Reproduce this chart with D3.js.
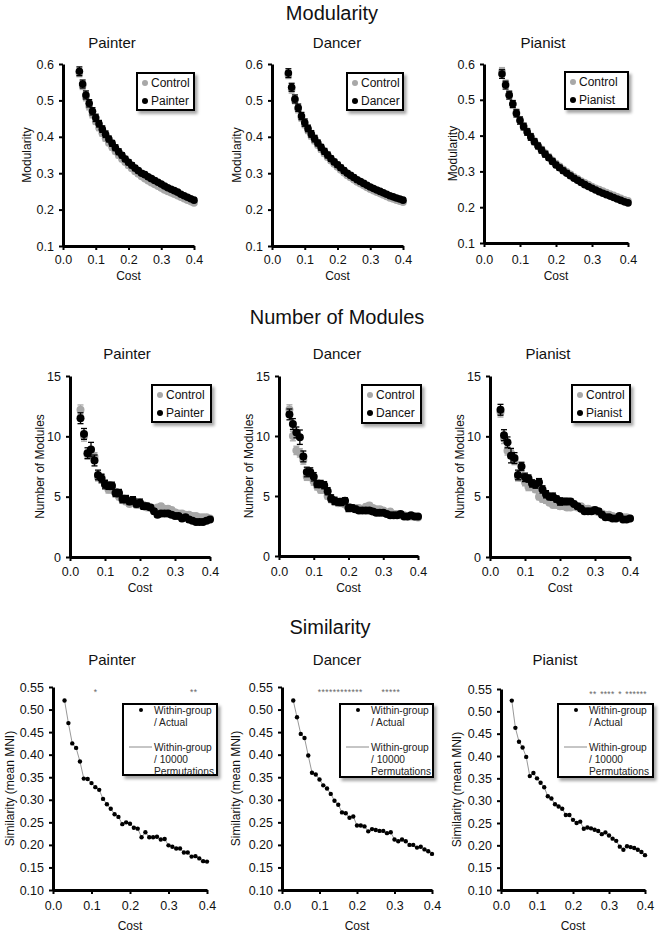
<!DOCTYPE html>
<html><head><meta charset="utf-8">
<script src="https://cdn.jsdelivr.net/npm/d3@7"></script>
<style>body{margin:0;background:#fff} text{font-family:"Liberation Sans",Arial,sans-serif;fill:#111}</style>
</head><body><svg id="c" width="664" height="934"></svg>
<script>
// ---------------- DATA ----------------
const groups = ["Painter", "Dancer", "Pianist"];
const rowTitles = ["Modularity", "Number of Modules", "Similarity"];
const costTicks = [0.0, 0.1, 0.2, 0.3, 0.4];
const modTicks = [0.1, 0.2, 0.3, 0.4, 0.5, 0.6];
const modulesTicks = [0, 5, 10, 15];
const simTicks = [0.10, 0.15, 0.20, 0.25, 0.30, 0.35, 0.40, 0.45, 0.50, 0.55];

const modCost = [0.05,0.06,0.07,0.08,0.09,0.10,0.11,0.12,0.13,0.14,0.15,0.16,0.17,0.18,0.19,0.20,0.21,0.22,0.23,0.24,0.25,0.26,0.27,0.28,0.29,0.30,0.31,0.32,0.33,0.34,0.35,0.36,0.37,0.38,0.39,0.40];
const modPainter = [.580,.545,.515,.492,.470,.452,.436,.421,.407,.394,.382,.370,.359,.349,.339,.330,.322,.314,.307,.300,.296,.290,.285,.280,.275,.270,.265,.260,.256,.252,.248,.242,.238,.234,.230,.226];
const modPainterCtrl = [.575,.540,.508,.483,.461,.442,.425,.410,.396,.383,.371,.360,.349,.339,.330,.321,.313,.305,.298,.291,.285,.279,.274,.269,.264,.259,.254,.250,.246,.242,.238,.234,.230,.226,.222,.218];
const modDancer = [.575,.536,.504,.480,.457,.439,.423,.408,.395,.383,.371,.360,.350,.340,.331,.323,.315,.307,.300,.294,.288,.282,.277,.272,.267,.262,.258,.254,.250,.246,.242,.238,.235,.232,.229,.226];
const modDancerCtrl = [.570,.530,.500,.475,.452,.433,.417,.402,.389,.377,.365,.354,.344,.334,.325,.317,.309,.301,.294,.288,.282,.276,.271,.266,.261,.256,.252,.248,.244,.240,.236,.232,.229,.226,.223,.220];
const modPianist = [.572,.541,.513,.488,.462,.442,.425,.410,.396,.383,.371,.359,.348,.338,.328,.318,.310,.302,.295,.288,.281,.275,.269,.263,.258,.253,.248,.243,.239,.235,.231,.227,.223,.219,.215,.212];
const modPianistCtrl = [.580,.545,.515,.488,.465,.445,.428,.412,.398,.385,.373,.362,.351,.341,.331,.322,.314,.306,.299,.292,.285,.279,.273,.268,.263,.258,.253,.249,.245,.241,.237,.233,.229,.225,.221,.218];
const modErr = [.012,.011,.011,.010,.010,.010,.009,.009,.009,.008,.008,.008,.008,.007,.007,.007,.007,.007,.006,.006,.006,.006,.006,.006,.005,.005,.005,.005,.005,.005,.005,.005,.005,.005,.005,.005];
const modErrCtrl = [.010,.010,.009,.009,.009,.008,.008,.008,.008,.007,.007,.007,.007,.007,.006,.006,.006,.006,.006,.006,.005,.005,.005,.005,.005,.005,.005,.005,.005,.004,.004,.004,.004,.004,.004,.004];

const nCost = [0.03,0.04,0.05,0.06,0.07,0.08,0.09,0.10,0.11,0.12,0.13,0.14,0.15,0.16,0.17,0.18,0.19,0.20,0.21,0.22,0.23,0.24,0.25,0.26,0.27,0.28,0.29,0.30,0.31,0.32,0.33,0.34,0.35,0.36,0.37,0.38,0.39,0.40];
const nPainter = [11.5,10.2,8.6,8.9,8.0,6.8,6.5,6.0,5.9,5.9,5.3,5.3,4.8,4.8,4.6,4.7,4.4,4.5,4.2,4.2,4.1,3.8,3.5,3.6,3.6,3.6,3.5,3.4,3.4,3.2,3.3,3.1,3.0,2.9,2.9,2.9,3.0,3.1];
const nPainterCtrl = [12.2,10.0,8.5,8.6,8.3,6.6,6.6,6.1,5.6,5.6,5.4,5.0,4.7,4.6,4.4,4.5,4.3,4.3,4.3,4.1,4.1,4.0,4.1,4.2,4.0,4.0,3.9,3.7,3.6,3.6,3.5,3.5,3.4,3.4,3.3,3.3,3.3,3.2];
const nDancer = [11.8,11.0,10.3,9.9,8.3,7.0,7.0,6.6,6.0,6.0,5.9,5.4,4.8,4.6,4.5,4.5,4.6,4.0,4.0,3.9,3.8,3.8,3.8,3.8,3.7,3.6,3.6,3.6,3.5,3.4,3.4,3.4,3.5,3.3,3.3,3.4,3.3,3.3];
const nDancerCtrl = [12.2,10.0,8.8,8.6,8.0,6.6,6.6,6.2,5.8,5.5,5.5,5.0,4.7,4.5,4.4,4.4,4.3,4.1,4.0,4.0,4.0,3.9,4.1,4.2,4.0,3.9,3.9,3.8,3.6,3.7,3.5,3.5,3.4,3.4,3.3,3.3,3.3,3.2];
const nPianist = [12.2,10.1,9.5,8.4,8.2,6.8,7.5,6.6,6.5,6.1,6.0,6.2,5.6,5.2,5.0,5.0,4.8,4.6,4.6,4.6,4.6,4.4,4.2,4.0,3.8,3.8,3.8,3.9,3.8,3.5,3.3,3.3,3.2,3.2,3.4,3.1,3.1,3.2];
const nPianistCtrl = [12.0,9.8,8.8,8.6,8.0,6.6,6.6,6.2,5.8,5.8,5.6,5.0,4.8,4.7,4.5,4.3,4.3,4.2,4.2,4.1,4.1,4.2,4.1,4.2,4.0,4.0,3.9,3.8,3.7,3.6,3.5,3.5,3.4,3.3,3.3,3.3,3.3,3.2];
const nErr = [0.45,0.45,0.45,0.6,0.45,0.4,0.35,0.35,0.3,0.3,0.3,0.3,0.3,0.3,0.25,0.3,0.25,0.3,0.25,0.25,0.2,0.2,0.2,0.2,0.2,0.2,0.2,0.2,0.2,0.2,0.2,0.2,0.15,0.15,0.15,0.15,0.15,0.15];
const nErrCtrl = [0.4,0.4,0.35,0.35,0.35,0.3,0.3,0.3,0.3,0.25,0.25,0.25,0.25,0.25,0.2,0.2,0.2,0.2,0.2,0.2,0.2,0.2,0.2,0.2,0.2,0.2,0.2,0.2,0.15,0.15,0.15,0.15,0.15,0.15,0.15,0.15,0.15,0.15];

const simCost = nCost;
const simPainter = [.520,.470,.425,.415,.385,.347,.346,.337,.328,.322,.302,.290,.280,.268,.262,.246,.250,.247,.238,.236,.217,.228,.217,.217,.218,.212,.213,.199,.196,.192,.192,.183,.183,.174,.175,.170,.164,.163];
const simPainterPerm = [.520,.470,.425,.415,.385,.347,.346,.337,.328,.322,.302,.290,.280,.268,.262,.246,.250,.247,.238,.236,.217,.228,.217,.217,.218,.212,.213,.199,.196,.192,.192,.183,.183,.174,.175,.170,.164,.163];
const simDancer = [.520,.483,.446,.437,.398,.360,.356,.345,.332,.325,.313,.298,.289,.272,.270,.260,.263,.243,.243,.241,.230,.235,.233,.231,.231,.226,.228,.212,.208,.212,.208,.200,.200,.194,.196,.190,.186,.180];
const simDancerPerm = [.520,.483,.446,.437,.398,.360,.356,.345,.332,.325,.313,.298,.289,.272,.270,.260,.263,.243,.243,.241,.230,.235,.233,.231,.231,.226,.228,.212,.208,.212,.208,.200,.200,.194,.196,.190,.186,.180];
const simPianist = [.524,.463,.432,.419,.398,.355,.362,.350,.340,.330,.310,.305,.292,.287,.282,.268,.268,.257,.250,.253,.237,.240,.238,.235,.232,.225,.229,.222,.215,.210,.197,.190,.198,.196,.194,.190,.185,.178];
const simPianistPerm = [.524,.463,.432,.419,.398,.355,.362,.350,.340,.330,.310,.305,.292,.287,.282,.268,.268,.257,.250,.253,.237,.240,.238,.235,.232,.225,.229,.222,.215,.210,.197,.190,.198,.196,.194,.190,.185,.178];
const starsPainter = [0.11, 0.36, 0.37];
const starsDancer = [0.10,0.11,0.12,0.13,0.14,0.15,0.16,0.17,0.18,0.19,0.20,0.21,0.27,0.28,0.29,0.30,0.31];
const starsPianist = [0.25,0.26,0.28,0.29,0.30,0.31,0.33,0.35,0.36,0.37,0.38,0.39,0.40];

// ---------------- LAYOUT ----------------
const svg = d3.select("#c");
const defs = svg.append("defs");
defs.append("filter").attr("id","sh").attr("x","-20%").attr("y","-20%").attr("width","150%").attr("height","160%")
  .append("feDropShadow").attr("dx",2.5).attr("dy",3).attr("stdDeviation",1.8).attr("flood-color","#000").attr("flood-opacity",0.35);

const GREY = "#a8a8a8";

const rows = [
  { title: rowTitles[0], titleX: 332, titleY: 13, subY: 42, yLabel: "Modularity", domain: [0.1, 0.6], ticks: modTicks, fmt: d3.format(".1f"),
    tickY: 260, costY: 276,
    panels: [
      { x0: 63, x1: 194, y0: 64, y1: 246, subX: 112, ylx: 27, leg: [137, 73, 57, 37], main: modPainter, ctrl: modPainterCtrl },
      { x0: 272, x1: 403, y0: 64, y1: 246, subX: 337, ylx: 237, leg: [347, 73, 56, 37], main: modDancer, ctrl: modDancerCtrl },
      { x0: 484, x1: 628, y0: 64, y1: 243, subX: 543, ylx: 453, leg: [565, 72, 63, 37], main: modPianist, ctrl: modPianistCtrl }
    ] },
  { title: rowTitles[1], titleX: 337, titleY: 317, subY: 353, yLabel: "Number of Modules", domain: [0, 15], ticks: modulesTicks, fmt: d3.format("d"),
    tickY: 572, costY: 588,
    panels: [
      { x0: 70, x1: 210, y0: 376, y1: 557, subX: 127, ylx: 40, leg: [152, 385, 59, 37], main: nPainter, ctrl: nPainterCtrl },
      { x0: 279, x1: 418, y0: 376, y1: 556, subX: 337, ylx: 249, leg: [362, 385, 59, 38], main: nDancer, ctrl: nDancerCtrl },
      { x0: 490, x1: 630, y0: 376, y1: 557, subX: 548, ylx: 460, leg: [572, 385, 58, 37], main: nPianist, ctrl: nPianistCtrl }
    ] },
  { title: rowTitles[2], titleX: 330, titleY: 627, subY: 659, yLabel: "Similarity (mean MNI)", domain: [0.10, 0.55], ticks: simTicks, fmt: d3.format(".2f"),
    tickY: 906, costY: 926,
    panels: [
      { x0: 53, x1: 207, y0: 687, y1: 890, subX: 112, ylx: 10, leg: [123, 704, 94, 71], main: simPainter, perm: simPainterPerm, stars: starsPainter },
      { x0: 282, x1: 432, y0: 687, y1: 890, subX: 337, ylx: 236, leg: [340, 704, 93, 73], main: simDancer, perm: simDancerPerm, stars: starsDancer },
      { x0: 501, x1: 645, y0: 689, y1: 890, subX: 555, ylx: 457, leg: [558, 704, 95, 73], main: simPianist, perm: simPianistPerm, stars: starsPianist }
    ] }
];

rows.forEach((row, ri) => {
  svg.append("text").attr("x", row.titleX).attr("y", row.titleY).attr("text-anchor","middle")
    .attr("dominant-baseline","central").attr("font-size", 20).text(row.title);

  row.panels.forEach((p, pi) => {
    const g = svg.append("g");
    const x = d3.scaleLinear().domain([0, 0.4]).range([p.x0, p.x1]);
    const y = d3.scaleLinear().domain(row.domain).range([p.y1, p.y0]);

    g.append("text").attr("x", p.subX).attr("y", row.subY).attr("text-anchor","middle")
      .attr("dominant-baseline","central").attr("font-size", 15).text(groups[pi]);

    // axes
    const yAxis = g.append("g").attr("transform", `translate(${p.x0},0)`)
      .call(d3.axisLeft(y).tickValues(row.ticks).tickFormat(row.fmt).tickSize(4).tickSizeOuter(0).tickPadding(5));
    const xAxis = g.append("g").attr("transform", `translate(0,${p.y1})`)
      .call(d3.axisBottom(x).tickValues(costTicks).tickFormat(d3.format(".1f")).tickSize(4).tickSizeOuter(0).tickPadding(4));
    [yAxis, xAxis].forEach(a => {
      a.select(".domain").attr("stroke","#000").attr("stroke-width",3);
      a.selectAll(".tick line").attr("stroke","#000").attr("stroke-width",2);
      a.selectAll(".tick text").attr("font-size",12.5).attr("fill","#111")
        .style("font-family",'"Liberation Sans",Arial,sans-serif');
    });
    xAxis.selectAll(".tick text").attr("dy", null).attr("y", row.tickY - p.y1).attr("dominant-baseline","central");

    g.append("text").attr("x", (p.x0 + p.x1) / 2).attr("y", row.costY).attr("text-anchor","middle")
      .attr("dominant-baseline","central").attr("font-size", 12).text("Cost");
    g.append("text").attr("transform", `translate(${p.ylx},${(p.y0 + p.y1) / 2}) rotate(-90)`)
      .attr("text-anchor","middle").attr("dominant-baseline","central").attr("font-size", 12).text(row.yLabel);

    if (ri < 2) {
      const cost = ri === 0 ? modCost : nCost;
      const err = ri === 0 ? modErr : nErr;
      const errC = ri === 0 ? modErrCtrl : nErrCtrl;
      const r = ri === 0 ? 3.8 : 4;
      const drawSeries = (vals, e, col) => {
        const s = g.append("g");
        vals.forEach((v, i) => {
          const cx = x(cost[i]);
          s.append("line").attr("x1", cx).attr("x2", cx).attr("y1", y(v - e[i])).attr("y2", y(v + e[i]))
            .attr("stroke", col).attr("stroke-width", 1.3);
          [v - e[i], v + e[i]].forEach(w => s.append("line").attr("x1", cx - 3).attr("x2", cx + 3)
            .attr("y1", y(w)).attr("y2", y(w)).attr("stroke", col).attr("stroke-width", 1.3));
        });
        s.selectAll("circle").data(vals).join("circle")
          .attr("cx", (d, i) => x(cost[i])).attr("cy", d => y(d)).attr("r", r).attr("fill", col);
      };
      drawSeries(p.ctrl, errC, GREY);
      drawSeries(p.main, err, "#000");

      // legend
      const [lx, ly, lw, lh] = p.leg;
      const lg = g.append("g");
      lg.append("rect").attr("x", lx).attr("y", ly).attr("width", lw).attr("height", lh)
        .attr("fill", "#fff").attr("stroke", "#000").attr("stroke-width", 2).attr("filter", "url(#sh)");
      lg.append("circle").attr("cx", lx + 8).attr("cy", ly + 10).attr("r", 3).attr("fill", GREY);
      lg.append("circle").attr("cx", lx + 8).attr("cy", ly + 28).attr("r", 3).attr("fill", "#000");
      lg.append("text").attr("x", lx + 14).attr("y", ly + 10).attr("dominant-baseline","central").attr("font-size", 12).text("Control");
      lg.append("text").attr("x", lx + 14).attr("y", ly + 28).attr("dominant-baseline","central").attr("font-size", 12).text(groups[pi]);
    } else {
      const line = d3.line().x((d, i) => x(simCost[i])).y(d => y(d));
      g.append("path").datum(p.perm).attr("d", line).attr("fill","none").attr("stroke","#8c8c8c").attr("stroke-width",0.9);
      g.selectAll("circle.pt").data(p.main).join("circle").attr("class","pt")
        .attr("cx", (d, i) => x(simCost[i])).attr("cy", d => y(d)).attr("r", 2.2).attr("fill", "#000");
      g.selectAll("text.star").data(p.stars).join("text").attr("class","star")
        .attr("x", d => x(d)).attr("y", p.y0 + 8).attr("text-anchor","middle").attr("font-size", 8.5)
        .style("fill", "#666").text("*");

      const [lx, ly, lw, lh] = p.leg;
      const lg = g.append("g");
      lg.append("rect").attr("x", lx).attr("y", ly).attr("width", lw).attr("height", lh)
        .attr("fill", "#fff").attr("stroke", "#000").attr("stroke-width", 2).attr("filter", "url(#sh)");
      lg.append("circle").attr("cx", lx + 18).attr("cy", ly + 6).attr("r", 2).attr("fill", "#000");
      lg.append("line").attr("x1", lx + 6).attr("x2", lx + 29).attr("y1", ly + 43).attr("y2", ly + 43)
        .attr("stroke", "#8c8c8c").attr("stroke-width", 1);
      const lines1 = ["Within-group", "/ Actual"];
      const lines2 = ["Within-group", "/ 10000", "Permutations"];
      lines1.forEach((t, k) => lg.append("text").attr("x", lx + 31).attr("y", ly + 6 + k * 12.5)
        .attr("dominant-baseline","central").attr("font-size", 10.2).style("fill","#222").text(t));
      lines2.forEach((t, k) => lg.append("text").attr("x", lx + 31).attr("y", ly + 43 + k * 12)
        .attr("dominant-baseline","central").attr("font-size", 10.2).style("fill","#222").text(t));
    }
  });
});
</script></body></html>
